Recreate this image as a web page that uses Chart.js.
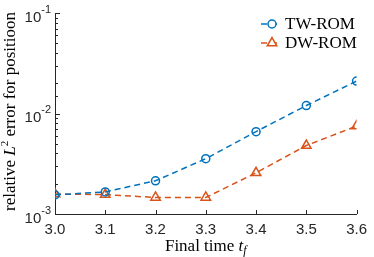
<!DOCTYPE html>
<html>
<head>
<meta charset="utf-8">
<script src="https://cdn.jsdelivr.net/npm/chart.js@4/dist/chart.umd.min.js"></script>
<style>
    html, body { margin: 0; padding: 0; background: #fff; }
    #wrap { width: 374px; height: 257px; }
</style>
</head>
<body>
<div id="wrap"><canvas id="chart"></canvas></div>
<script>
// Данные
const finalTimes = [3.0, 3.1, 3.2, 3.3, 3.4, 3.5, 3.6];
const twRom = [1.55e-3, 1.66e-3, 2.14e-3, 3.55e-3, 6.6e-3, 1.2e-2, 2.1e-2];
const dwRom = [1.58e-3, 1.56e-3, 1.46e-3, 1.46e-3, 2.57e-3, 4.8e-3, 7.5e-3];
const seriesNames = ['TW-ROM', 'DW-ROM'];
const yDecades = [1e-3, 1e-2, 1e-1];
const yExponents = ['-3', '-2', '-1'];

const AXIS = '#262626';
const BLUE = 'rgb(0, 114, 189)';
const ORANGE = 'rgb(217, 83, 25)';
const SANS = '"Liberation Sans", Arial, sans-serif';
const SERIF = '"Liberation Serif", "Times New Roman", serif';
const TITLE_PX = 17;

// Рисуем куски текста разными шрифтами подряд
function drawRuns(ctx, runs, x, y, align) {
    let total = 0;
    runs.forEach(r => { ctx.font = r.font; r.w = ctx.measureText(r.text).width; total += r.w; });
    let cx = align === 'center' ? x - total / 2 : x;
    ctx.textBaseline = 'alphabetic';
    ctx.textAlign = 'left';
    runs.forEach(r => {
        ctx.font = r.font;
        ctx.fillText(r.text, cx, y + (r.dy || 0));
        cx += r.w;
    });
}

const decorPlugin = {
    id: 'decor',
    afterDraw(chart) {
        const ctx = chart.ctx;
        const xs = chart.scales.x;
        const ys = chart.scales.y;
        const area = chart.chartArea;
        ctx.save();
        ctx.strokeStyle = AXIS;
        ctx.fillStyle = AXIS;
        ctx.lineWidth = 1;

        // засечки оси Y внутрь
        ys.ticks.forEach(t => {
            const py = Math.round(ys.getPixelForValue(t.value)) + 0.5;
            const lg = Math.log10(t.value);
            const len = Math.abs(lg - Math.round(lg)) < 1e-9 ? 5 : 3;
            ctx.beginPath();
            ctx.moveTo(area.left, py);
            ctx.lineTo(area.left + len, py);
            ctx.stroke();
        });
        // засечки оси X внутрь
        xs.ticks.forEach(t => {
            const px = Math.round(xs.getPixelForValue(t.value)) + 0.5;
            ctx.beginPath();
            ctx.moveTo(px, area.bottom);
            ctx.lineTo(px, area.bottom - 4);
            ctx.stroke();
        });

        // подписи оси Y: 10^n
        yDecades.forEach((v, i) => {
            const py = ys.getPixelForValue(v);
            ctx.font = '15px ' + SANS;
            const wBase = ctx.measureText('10').width;
            ctx.font = '11px ' + SANS;
            const wExp = ctx.measureText(yExponents[i]).width;
            const right = area.left - 4;
            const x0 = right - wBase - wExp;
            drawRuns(ctx, [
                { text: '10', font: '15px ' + SANS },
                { text: yExponents[i], font: '11px ' + SANS, dy: -9 }
            ], x0, py + 8.5, 'left');
        });

        // подпись оси X
        ctx.fillStyle = '#000';
        drawRuns(ctx, [
            { text: 'Final time ', font: TITLE_PX + 'px ' + SERIF },
            { text: 't', font: 'italic ' + TITLE_PX + 'px ' + SERIF },
            { text: 'f', font: 'italic 12px ' + SERIF, dy: 3 }
        ], (area.left + area.right) / 2, 251, 'center');

        // подпись оси Y
        ctx.save();
        ctx.translate(15, 111.5);
        ctx.rotate(-Math.PI / 2);
        drawRuns(ctx, [
            { text: 'relative ', font: TITLE_PX + 'px ' + SERIF },
            { text: 'L', font: 'italic ' + TITLE_PX + 'px ' + SERIF },
            { text: '2', font: '11px ' + SERIF, dy: -7 },
            { text: ' error for positioon', font: TITLE_PX + 'px ' + SERIF }
        ], 0, 0, 'center');
        ctx.restore();

        // легенда
        chart.data.datasets.forEach((ds, i) => {
            const ly = 24 + i * 19;
            ctx.strokeStyle = ds.borderColor;
            ctx.lineWidth = 1.5;
            ctx.setLineDash([6, 4]);
            ctx.beginPath();
            ctx.moveTo(261, ly);
            ctx.lineTo(277, ly);
            ctx.stroke();
            ctx.setLineDash([]);
            ctx.fillStyle = '#fff';
            Chart.helpers.drawPoint(ctx, {
                pointStyle: ds.pointStyle,
                radius: ds.pointRadius,
                rotation: 0,
                borderWidth: 1.5
            }, 272, ly);
            ctx.fillStyle = '#000';
            ctx.font = TITLE_PX + 'px ' + SERIF;
            ctx.textAlign = 'left';
            ctx.textBaseline = 'middle';
            ctx.fillText(ds.label, 285, ly + 1);
        });
        ctx.restore();
    }
};

function makeSet(label, values, color, style, r) {
    return {
        label: label,
        data: finalTimes.map((x, i) => ({ x: x, y: values[i] })),
        borderColor: color,
        backgroundColor: 'rgba(0,0,0,0)',
        borderWidth: 1.5,
        borderDash: [6, 4],
        pointStyle: style,
        pointRadius: r,
        pointBorderWidth: 1.5,
        pointBackgroundColor: 'rgba(0,0,0,0)',
        pointBorderColor: color,
        tension: 0,
        fill: false
    };
}

const ctx = document.getElementById('chart').getContext('2d');
const chart = new Chart(ctx, {
    type: 'line',
    data: {
        datasets: [
            makeSet(seriesNames[0], twRom, BLUE, 'circle', 4),
            makeSet(seriesNames[1], dwRom, ORANGE, 'triangle', 5.5)
        ]
    },
    options: {
        responsive: true,
        maintainAspectRatio: false,
        animation: false,
        layout: { padding: { top: 13, right: 10, left: 0, bottom: 0 } },
        plugins: { legend: { display: false }, tooltip: { enabled: false } },
        scales: {
            x: {
                type: 'linear',
                min: 3.0,
                max: 3.6,
                afterFit: s => { s.height = 43; },
                ticks: {
                    stepSize: 0.1,
                    callback: v => v.toFixed(1),
                    font: { family: SANS, size: 15 },
                    color: AXIS,
                    padding: 7,
                    maxRotation: 0
                },
                grid: { display: false, drawTicks: false },
                border: { display: true, color: AXIS, width: 1 }
            },
            y: {
                type: 'logarithmic',
                min: 1e-3,
                max: 1e-1,
                afterFit: s => { s.width = 55; },
                ticks: { display: false },
                grid: { display: false, drawTicks: false },
                border: { display: true, color: AXIS, width: 1 }
            }
        }
    },
    plugins: [decorPlugin]
});
</script>
</body>
</html>
